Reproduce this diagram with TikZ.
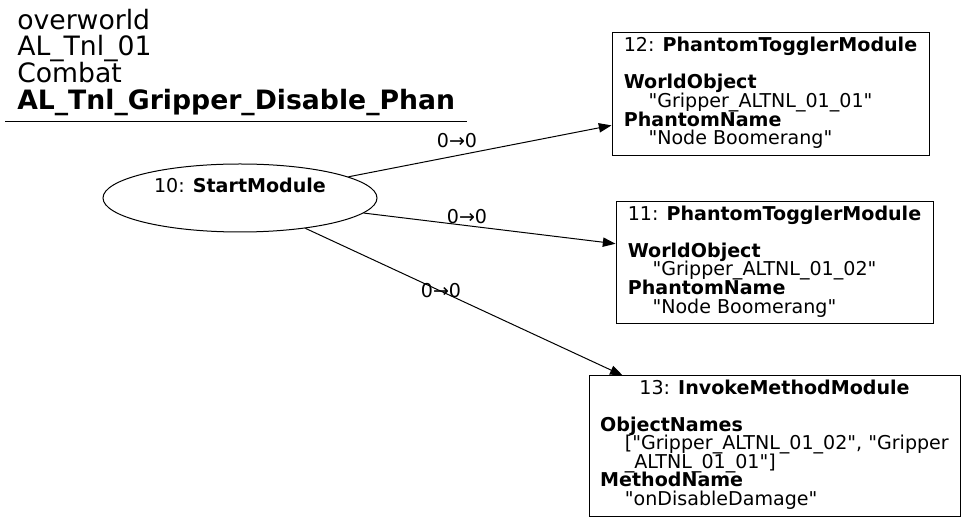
\documentclass[tikz,border=0pt]{standalone}
\usepackage{fontspec}
\setmainfont{DejaVu Sans}
\newfontfamily\plainsans{DejaVu Sans}
\usepackage{array}
\usepackage{tikz}
\usetikzlibrary{arrows.meta,shapes.geometric}

\newcommand{\boxfont}{\plainsans\fontsize{14.3}{13.9}\selectfont}
\newcommand{\headfont}{\plainsans\fontsize{20}{20}\selectfont}
% rows keep the strut height only
\newcolumntype{L}{>{\setbox0=\hbox\bgroup}l<{\egroup\smash{\box0}}}
\newcommand{\rowhead}[1]{\multicolumn{1}{@{}c@{}}{\smash{#1}}}

\begin{document}
\begin{tikzpicture}[
    x=0.75pt, y=-0.75pt,
    module/.style={rectangle, draw, line width=0.75pt, inner sep=0pt, font=\boxfont},
    start/.style={ellipse, draw, line width=0.75pt, inner sep=0pt, minimum width=205.5pt, minimum height=51pt, font=\boxfont},
    edgelbl/.style={inner sep=1pt, font=\boxfont},
    link/.style={-{Triangle[length=9.5pt,width=7pt]}, line width=0.75pt}
]
\useasboundingbox (0,0) rectangle (967,523);

% Header
\node[anchor=north west, inner sep=0pt, align=left, font=\headfont] (head) at (17,8.5)
    {overworld\\AL\_Tnl\_01\\Combat\\\textbf{AL\_Tnl\_Gripper\_Disable\_Phan}};
\draw[line width=0.75pt] (5,122) -- (467,122);

% Start module
\node[start] (m10) at (240,198)
    {\begin{tabular}{@{}L@{}}\rowhead{10: \textbf{StartModule}}\\ ~\end{tabular}};

% Phantom toggler 12
\node[module, minimum width=237.75pt, minimum height=92.25pt] (m12) at (770.5,94.5)
    {\begin{tabular}{@{}L@{}}
     \rowhead{12: \textbf{PhantomTogglerModule}}\\
     \\
     \textbf{WorldObject}\\
     \hspace*{18.5pt}"Gripper\_ALTNL\_01\_01"\\
     \textbf{PhantomName}\\
     \hspace*{18.5pt}"Node Boomerang"
     \end{tabular}};

% Phantom toggler 11
\node[module, minimum width=237.75pt, minimum height=91.5pt] (m11) at (774.5,263)
    {\begin{tabular}{@{}L@{}}
     \rowhead{11: \textbf{PhantomTogglerModule}}\\
     \\
     \textbf{WorldObject}\\
     \hspace*{18.5pt}"Gripper\_ALTNL\_01\_02"\\
     \textbf{PhantomName}\\
     \hspace*{18.5pt}"Node Boomerang"
     \end{tabular}};

% Invoke method 13
\node[module, minimum width=278.25pt, minimum height=105pt] (m13) at (774.5,446)
    {\begin{tabular}{@{}L@{}}
     \rowhead{13: \textbf{InvokeMethodModule}}\\
     \\
     \textbf{ObjectNames}\\
     \hspace*{18.5pt}["Gripper\_ALTNL\_01\_02", "Gripper\\
     \hspace*{18.5pt}\_ALTNL\_01\_01"]\\
     \textbf{MethodName}\\
     \hspace*{18.5pt}"onDisableDamage"
     \end{tabular}};

% Edge labels
\node[edgelbl] (l12) at (457,141) {0→0};
\node[edgelbl] (l11) at (467,217) {0→0};
\node[edgelbl] (l13) at (441,291) {0→0};

% Links
\draw[link] (m10) -- (m12);
\draw[link] (m10) -- (m11);
\draw[link] (m10) -- (m13);

\end{tikzpicture}
\end{document}
